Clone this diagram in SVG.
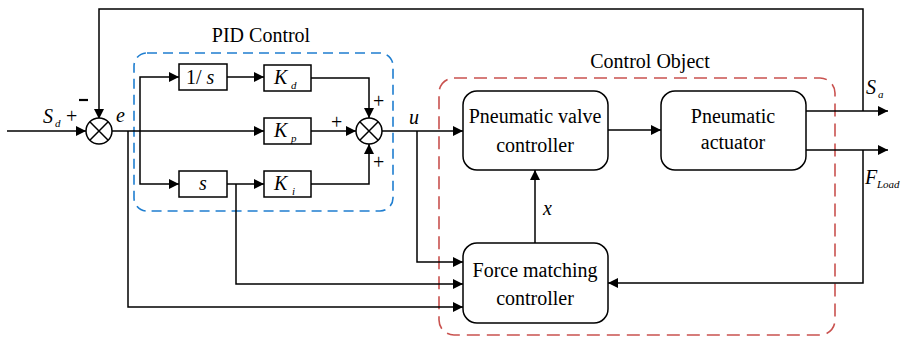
<svg xmlns="http://www.w3.org/2000/svg" width="903" height="338" viewBox="0 0 903 338">
<defs>
<marker id="arr" markerUnits="userSpaceOnUse" markerWidth="11" markerHeight="11" refX="10" refY="5" orient="auto">
<path d="M0,0 L10,5 L0,10 z" fill="#000"/>
</marker>
<style>
.ln{fill:none;stroke:#000;stroke-width:1.5}
.a{marker-end:url(#arr)}
.box{fill:#fff;stroke:#000;stroke-width:1.5}
text{font-family:"Liberation Serif","DejaVu Serif","Times New Roman",serif;fill:#000}
.t{font-size:20px}
.i{font-style:italic;font-size:20px}
.sub{font-style:italic;font-size:11px}
.c{text-anchor:middle}
</style>
</defs>
<rect width="903" height="338" fill="#fff"/>

<g id="pid-group">
<rect x="134" y="53" width="259" height="158" rx="13" fill="none" stroke="#1F7ED0" stroke-width="1.6" stroke-dasharray="10,6"/>
<text class="t c" x="261" y="42">PID Control</text>
</g>
<g id="control-object-group">
<rect x="439" y="78" width="396" height="257" rx="15" fill="none" stroke="#C9524F" stroke-width="1.6" stroke-dasharray="13,7"/>
<text class="t c" x="650" y="68">Control Object</text>
</g>

<g id="connectors">
<path class="ln a" d="M7,131 H86"/>
<path class="ln a" d="M863,111 V9 H99 V119"/>
<path class="ln a" d="M112,131 H264"/>
<path class="ln a" d="M140,131 V77 H179"/>
<path class="ln a" d="M140,131 V184 H179"/>
<path class="ln a" d="M227,77 H264"/>
<path class="ln a" d="M227,184 H264"/>
<path class="ln a" d="M311,78 H369 V118"/>
<path class="ln a" d="M311,131 H356"/>
<path class="ln a" d="M311,184 H369 V144"/>
<path class="ln a" d="M382,131 H463"/>
<path class="ln a" d="M417,131 V262 H463"/>
<path class="ln a" d="M236,184 V284 H463"/>
<path class="ln a" d="M128,131 V307 H463"/>
<path class="ln a" d="M608,130 H661"/>
<path class="ln a" d="M806,111 H888"/>
<path class="ln a" d="M806,150 H888"/>
<path class="ln a" d="M863,150 V283 H608"/>
<path class="ln a" d="M535,243 V170"/>
</g>

<g id="sum1">
<circle cx="99" cy="131" r="13" class="box"/>
<path class="ln" d="M89.8,121.8 L108.2,140.2 M108.2,121.8 L89.8,140.2"/>
<text class="i" x="43" y="123">S</text>
<text class="sub" x="55" y="127">d</text>
<text class="t" x="66" y="123">+</text>
<path d="M79,100 H88" stroke="#000" stroke-width="2.2"/>
<text class="i" x="116" y="122">e</text>
</g>

<g id="sum2">
<circle cx="369" cy="131" r="13" class="box"/>
<path class="ln" d="M359.8,121.8 L378.2,140.2 M378.2,121.8 L359.8,140.2"/>
<text class="t" x="373" y="108">+</text>
<text class="t" x="331" y="129">+</text>
<text class="t" x="373" y="169">+</text>
<text class="i" x="409" y="124">u</text>
</g>

<g id="integ">
<rect class="box" x="179" y="64" width="48" height="26"/>
<text class="t" x="186" y="84">1/ <tspan font-style="italic">s</tspan></text>
</g>
<g id="kd">
<rect class="box" x="264" y="65" width="47" height="26"/>
<text class="i" x="274" y="84">K</text>
<text class="sub" x="291" y="89">d</text>
</g>
<g id="kp">
<rect class="box" x="264" y="118" width="47" height="26"/>
<text class="i" x="274" y="137">K</text>
<text class="sub" x="291" y="142">p</text>
</g>
<g id="deriv">
<rect class="box" x="179" y="171" width="48" height="26"/>
<text class="i c" x="203" y="190">s</text>
</g>
<g id="ki">
<rect class="box" x="264" y="171" width="47" height="26"/>
<text class="i" x="274" y="190">K</text>
<text class="sub" x="292" y="195">i</text>
</g>

<g id="valve">
<rect class="box" x="463" y="91" width="145" height="79" rx="14"/>
<text class="t c" x="535" y="123">Pneumatic valve</text>
<text class="t c" x="535" y="152">controller</text>
</g>
<g id="actuator">
<rect class="box" x="661" y="91" width="145" height="79" rx="14"/>
<text class="t c" x="733" y="123">Pneumatic</text>
<text class="t c" x="733" y="149">actuator</text>
</g>
<g id="force">
<rect class="box" x="463" y="243" width="145" height="80" rx="14"/>
<text class="t c" x="535" y="277">Force matching</text>
<text class="t c" x="535" y="305">controller</text>
<text class="i" x="543" y="215">x</text>
</g>

<g id="outputs">
<text class="i" x="866" y="94">S</text>
<text class="sub" x="878" y="98">a</text>
<text class="i" x="865" y="184">F</text>
<text class="sub" x="877" y="188">Load</text>
</g>
</svg>
